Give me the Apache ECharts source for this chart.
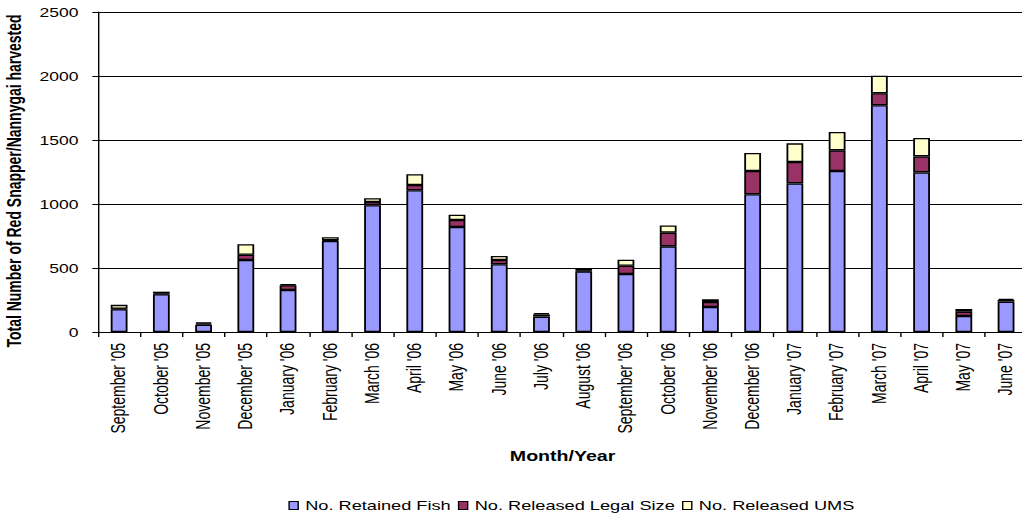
<!DOCTYPE html>
<html>
<head>
<meta charset="utf-8">
<title>Red Snapper/Nannygai harvest by month</title>
<script src="https://cdn.jsdelivr.net/npm/echarts@6/dist/echarts.min.js"></script>
<style>
  html, body { margin: 0; padding: 0; background: #ffffff; overflow: hidden; }
  /* the chart is laid out on a 730px-wide stage and widened to 1022px */
  #chart { width: 730px; height: 515px; transform: scaleX(1.4); transform-origin: 0 0; }
</style>
</head>
<body>
<div id="chart"></div>
<script>
const months = [
  "September '05", "October '05", "November '05", "December '05",
  "January '06", "February '06", "March '06", "April '06", "May '06",
  "June '06", "July '06", "August '06", "September '06", "October '06",
  "November '06", "December '06", "January '07", "February '07",
  "March '07", "April '07", "May '07", "June '07"
];
const retainedFish = [178, 295, 57, 562, 328, 711, 990, 1107, 820, 529, 120, 474, 453, 669, 195, 1076, 1161, 1258, 1771, 1247, 125, 237];
const releasedLegal = [4, 6, 10, 42, 37, 5, 26, 41, 55, 33, 18, 6, 65, 107, 39, 182, 167, 161, 94, 125, 34, 13];
const releasedUMS = [30, 14, 7, 81, 8, 24, 29, 84, 41, 32, 10, 20, 47, 57, 21, 140, 146, 143, 137, 144, 21, 10];
const yTicks = { min: 0, max: 2500, step: 500 };

const FONT = "'Liberation Sans', Arial, sans-serif";
const colours = ['#9999FF', '#993366', '#FFFFCC'];

function stackSeries(name, values, colour) {
  return {
    name: name,
    type: 'bar',
    stack: 'catch',
    barWidth: 12,
    data: values,
    itemStyle: { color: colour, borderColor: '#000000', borderWidth: 1.3 },
    emphasis: { disabled: true }
  };
}

const chart = echarts.init(document.getElementById('chart'), null, { renderer: 'svg' });
chart.setOption({
  animation: false,
  backgroundColor: '#ffffff',
  textStyle: { fontFamily: FONT, color: '#000000' },
  grid: { left: 70, top: 12, height: 320, width: 663.7, containLabel: false, outerBoundsMode: 'none' },
  legend: {
    left: 201,
    top: 494,
    itemWidth: 6.5,
    itemHeight: 8,
    itemGap: 5,
    icon: 'rect',
    itemStyle: { borderColor: '#000000', borderWidth: 1 },
    textStyle: { fontFamily: FONT, fontSize: 13, color: '#000000' },
    data: ['No. Retained Fish', 'No. Released Legal Size', 'No. Released UMS']
  },
  xAxis: {
    type: 'category',
    data: months,
    name: 'Month/Year',
    nameLocation: 'middle',
    nameGap: 117,
    nameTextStyle: { fontFamily: FONT, fontSize: 14, fontWeight: 'bold', color: '#000000' },
    axisLine: { lineStyle: { color: '#000000', width: 1 } },
    axisTick: { show: true, length: 5, lineStyle: { color: '#000000' } },
    axisLabel: { rotate: 90, margin: 11, interval: 0, fontFamily: FONT, fontSize: 14, color: '#000000' },
    splitLine: { show: false }
  },
  yAxis: {
    type: 'value',
    min: yTicks.min,
    max: yTicks.max,
    interval: yTicks.step,
    name: 'Total Number of Red Snapper/Nannygai harvested',
    nameLocation: 'middle',
    nameGap: 47,
    nameTextStyle: {
      fontFamily: FONT, fontSize: 14, fontWeight: 'bold', color: '#000000',
      padding: [0, 18, 0, 0]
    },
    axisLine: { show: true, lineStyle: { color: '#000000', width: 1 } },
    axisTick: { show: true, length: 4, lineStyle: { color: '#000000' } },
    axisLabel: {
      margin: 14, fontFamily: FONT, fontSize: 12.5, color: '#000000',
      formatter: function (v) { return String(v); }
    },
    splitLine: { show: true, lineStyle: { color: '#000000', width: 1 } }
  },
  series: [
    stackSeries('No. Retained Fish', retainedFish, colours[0]),
    stackSeries('No. Released Legal Size', releasedLegal, colours[1]),
    stackSeries('No. Released UMS', releasedUMS, colours[2])
  ]
});
</script>
</body>
</html>
